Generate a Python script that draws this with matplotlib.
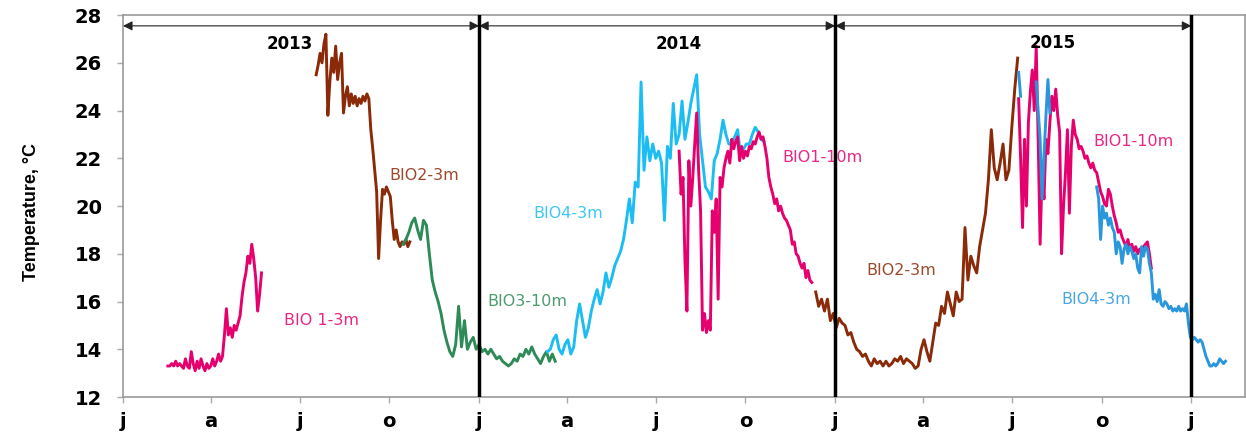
#Sea temperature records of the BIO stations, 2013-2015.
import numpy as np
import matplotlib.pyplot as plt

# days counted from 1 Jan 2013
bio1_3m_start, bio1_3m_step = 46, 2
bio1_3m = [13.3, 13.3, 13.4, 13.3, 13.5, 13.3, 13.4, 13.3, 13.2, 13.6,
           13.3, 13.2, 13.9, 13.4, 13.1, 13.5, 13.2, 13.6, 13.3, 13.1,
           13.4, 13.2, 13.3, 13.6, 13.3, 13.5, 13.8, 13.5, 13.7, 14.6,
           15.7, 14.6, 14.9, 14.5, 15.0, 14.8, 15.1, 15.4, 16.2, 16.8,
           17.2, 17.9, 17.6, 18.4, 17.8, 17.0, 15.6, 16.3, 17.2]

bio2_3m_a_start, bio2_3m_a_step = 198, 2
bio2_3m_a = [25.5, 25.9, 26.4, 26.0, 26.8, 27.2, 23.8, 25.2, 26.2, 25.6,
             26.7, 25.3, 26.0, 26.4, 23.9, 24.6, 25.0, 24.2, 24.7, 24.3,
             24.6, 24.2, 24.5, 24.3, 24.6, 24.4, 24.7, 24.5, 23.2, 22.4,
             21.5, 20.6, 17.8, 19.4, 20.7, 20.5, 20.8, 20.6, 20.4, 19.4,
             18.6, 19.0, 18.5, 18.3, 18.5, 18.4, 18.6, 18.3, 18.5]

bio3_10m_start, bio3_10m_step = 287, 3
bio3_10m = [18.4, 18.6, 18.9, 19.3, 19.5, 19.0, 18.6, 19.4, 19.2, 18.0,
            16.9, 16.4, 16.0, 15.5, 14.8, 14.3, 13.9, 13.7, 14.2, 15.8,
            14.1, 15.2, 14.0, 14.3, 14.5, 14.0, 14.2, 13.9, 14.0, 13.8,
            14.0, 13.8, 13.6, 13.7, 13.5, 13.4, 13.3, 13.4, 13.6, 13.5,
            13.8, 13.7, 14.0, 13.8, 14.1, 13.8, 13.6, 13.4, 13.7, 13.9,
            13.5, 13.8, 13.5]

bio4_3m_a_start, bio4_3m_a_step = 435, 3
bio4_3m_a = [13.9, 14.0, 14.4, 14.6, 14.0, 13.8, 14.2, 14.4, 13.8, 14.1,
             15.2, 15.9, 15.2, 14.5, 14.9, 15.6, 16.1, 16.5, 15.9, 16.4,
             17.2, 16.6, 17.0, 17.5, 17.8, 18.1, 18.6, 19.4, 20.3, 19.3,
             21.0, 20.8, 25.2, 21.5, 22.9, 21.9, 22.6, 22.0, 22.3, 21.8,
             19.4, 22.5, 22.0, 24.3, 22.6, 23.0, 24.4, 22.8, 23.5, 24.3,
             24.9, 25.5, 23.0, 21.9, 20.8, 20.6, 20.3, 21.9, 22.2, 22.8,
             23.6, 23.0, 22.6, 22.6, 22.9, 23.2, 22.1, 22.4, 22.6, 22.6,
             23.0, 23.3, 23.1, 22.8, 22.7]

bio1_10m_a_start, bio1_10m_a_step = 570, 2
bio1_10m_a = [22.3, 20.5, 21.2, 17.7, 15.6, 21.9, 20.0, 21.2, 22.6, 23.9,
              21.5, 19.8, 14.8, 15.5, 14.7, 15.2, 14.8, 19.8, 18.9, 20.3,
              16.1, 21.2, 20.8, 21.6, 22.0, 22.3, 21.8, 22.8, 22.4, 22.7,
              22.9, 21.9, 22.5, 22.0, 22.3, 22.1, 22.5, 22.4, 22.7, 22.6,
              22.9, 23.1, 22.8, 22.9, 22.5, 22.0, 21.2, 20.8, 20.5, 20.1,
              20.3, 19.8, 20.0, 19.7, 19.5, 19.4, 19.2, 19.0, 18.4, 18.5,
              18.0, 17.9, 17.6, 17.4, 17.6, 17.0, 17.3, 16.9, 16.8]

bio2_3m_b_start, bio2_3m_b_step = 710, 3
bio2_3m_b = [16.4, 15.8, 16.1, 15.6, 16.1, 15.2, 15.5, 14.9, 15.3, 15.1,
             15.0, 14.6, 14.7, 14.3, 14.0, 13.9, 13.7, 13.8, 13.5, 13.3,
             13.6, 13.4, 13.5, 13.3, 13.5, 13.3, 13.4, 13.6, 13.5, 13.7,
             13.4, 13.6, 13.5, 13.4, 13.2, 13.3, 14.0, 14.4, 13.9, 13.5,
             14.3, 15.1, 15.0, 15.8, 15.5, 16.4, 15.9, 15.4, 16.4, 16.0,
             16.1, 19.1, 16.9, 17.9, 17.5, 17.2, 18.3, 19.0, 19.7, 21.1,
             23.2, 21.6, 21.1, 21.8, 22.6, 21.1, 21.5, 23.3, 24.9, 26.2]

bio1_10m_b_start, bio1_10m_b_step = 918, 2
bio1_10m_b = [24.5, 22.0, 19.1, 22.8, 20.0, 23.5, 24.8, 25.7, 24.0, 26.7,
              22.8, 18.4, 21.4, 20.3, 22.8, 22.2, 23.5, 24.6, 24.0, 24.9,
              23.8, 23.1, 18.0, 20.0, 21.4, 23.2, 19.7, 22.5, 23.6, 23.0,
              22.8, 22.4, 22.5, 22.3, 22.0, 22.1, 21.8, 21.6, 21.8, 21.5,
              21.4, 21.0, 20.6, 20.4, 20.1, 20.0, 20.7, 20.5, 20.0, 19.6,
              19.3, 18.9, 19.0, 18.7, 18.5, 18.3, 18.6, 18.2, 18.4, 18.1,
              18.3, 18.0, 18.2, 18.1, 18.3, 18.4, 18.5, 18.0, 17.4]

nan = np.nan
bio4_3m_b_start, bio4_3m_b_step = 918, 2
bio4_3m_b = [25.6, 24.6, nan, nan, nan, nan, nan, nan, nan, 25.2,
             24.0, 22.8, 20.3, 22.1, 23.8, 25.3, 23.9, nan, nan, nan,
             nan, nan, nan, nan, nan, nan, nan, nan, nan, nan,
             nan, nan, nan, nan, nan, nan, nan, nan, nan, nan,
             20.8, 20.3, 18.6, 20.0, 19.5, 19.7, 19.2, 19.5, 19.1, 18.9,
             18.0, 18.5, 18.3, 17.6, 18.2, 18.4, 18.0, 18.3, 18.1, 17.8,
             18.0, 17.4, 17.2, 18.3, 17.9, 18.3, 18.2, 17.6, 17.2, 16.1,
             16.3, 16.0, 16.5, 15.9, 15.8, 16.0, 15.9, 15.7, 15.8, 15.6,
             15.7, 15.6, 15.8, 15.6, 15.7, 15.6, 15.9, 15.1, 14.5, 14.4,
             14.5, 14.4, 14.3, 14.4, 14.3, 14.0, 13.7, 13.5, 13.3, 13.3,
             13.4, 13.3, 13.4, 13.6, 13.5, 13.4, 13.5]

pink = '#e6006e'
brown = '#8a2a08'
green = '#2e8b57'
skyblue = '#1cbdf3'
blue = '#2a97dc'

year_starts = [0, 365, 730, 1095]
years = ['2013', '2014', '2015']
month_ticks = [0, 90, 181, 273, 365, 455, 546, 638, 730, 820, 911, 1003, 1095]
month_labels = ['j', 'a', 'j', 'o'] * 3 + ['j']


def days(start, step, values):
    return start + step * np.arange(len(values))


fig = plt.figure(figsize=(12.46, 4.32), dpi=100)
ax = fig.add_axes([0.0987, 0.081, 0.9005, 0.884])

series = [
    (bio1_3m_start, bio1_3m_step, bio1_3m, pink),
    (bio2_3m_a_start, bio2_3m_a_step, bio2_3m_a, brown),
    (bio3_10m_start, bio3_10m_step, bio3_10m, green),
    (bio4_3m_a_start, bio4_3m_a_step, bio4_3m_a, skyblue),
    (bio1_10m_a_start, bio1_10m_a_step, bio1_10m_a, pink),
    (bio2_3m_b_start, bio2_3m_b_step, bio2_3m_b, brown),
    (bio1_10m_b_start, bio1_10m_b_step, bio1_10m_b, pink),
    (bio4_3m_b_start, bio4_3m_b_step, bio4_3m_b, blue),
]
for start, step, vals, col in series:
    ax.plot(days(start, step, vals), vals, color=col, lw=2.1)

# year separators and span arrows
for d in year_starts[1:]:
    ax.axvline(d, color='black', lw=2.5, zorder=5)
for i, yr in enumerate(years):
    ax.annotate('', xy=(year_starts[i + 1], 27.55), xytext=(year_starts[i], 27.55),
                arrowprops=dict(arrowstyle='<|-|>', color='#222222', lw=0.8,
                                mutation_scale=14, shrinkA=0, shrinkB=0))
ax.text(171, 26.8, '2013', ha='center', va='center', fontsize=12, fontweight='bold')
ax.text(570, 26.8, '2014', ha='center', va='center', fontsize=12, fontweight='bold')
ax.text(953, 26.85, '2015', ha='center', va='center', fontsize=12, fontweight='bold')

labels = [
    (165, 15.2, 'BIO 1-3m', pink),
    (273, 21.3, 'BIO2-3m', brown),
    (373, 16.0, 'BIO3-10m', green),
    (421, 19.7, 'BIO4-3m', skyblue),
    (676, 22.05, 'BIO1-10m', pink),
    (762, 17.3, 'BIO2-3m', brown),
    (995, 22.7, 'BIO1-10m', pink),
    (962, 16.1, 'BIO4-3m', blue),
]
for x, y, s, col in labels:
    ax.text(x, y, s, color=col, fontsize=11.5, ha='left', va='center', alpha=0.85)

ax.set_xlim(0, 1150)
ax.set_ylim(12, 28)
ax.set_yticks(np.arange(12, 29, 2))
ax.set_xticks(month_ticks)
ax.set_xticklabels(month_labels)
for lab in ax.get_xticklabels() + ax.get_yticklabels():
    lab.set_fontweight('bold')
    lab.set_fontsize(14)
ax.tick_params(axis='both', direction='out', length=4, width=1, color='#aaaaaa')
ax.tick_params(axis='y', pad=11)
ax.tick_params(axis='x', pad=7)
for sp in ax.spines.values():
    sp.set_color('#999999')
    sp.set_linewidth(1.2)

fig.text(0.025, 0.509, 'Temperature, °C', rotation=90, ha='center', va='center',
         fontsize=13, fontweight='bold', family='Liberation Sans')

plt.savefig('out.png', dpi=100)
